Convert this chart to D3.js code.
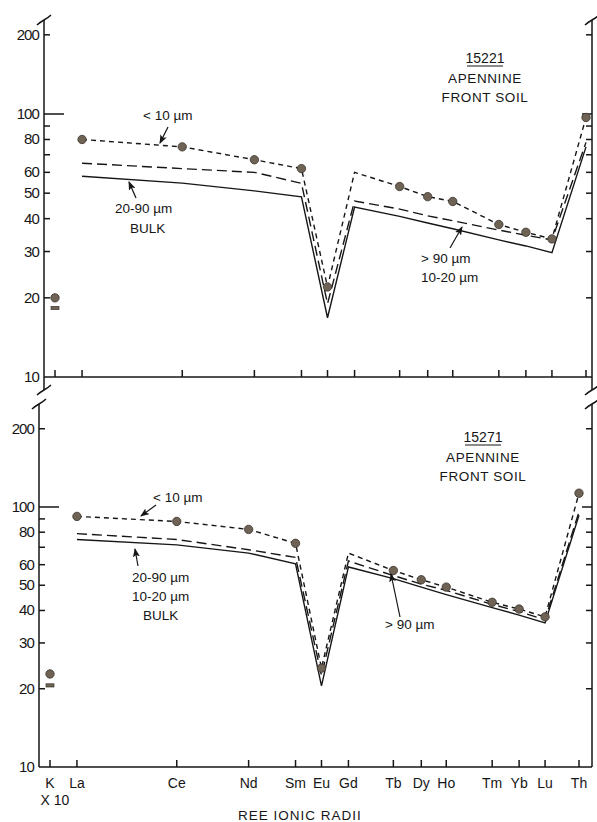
<!DOCTYPE html>
<html>
<head>
<meta charset="utf-8">
<script src="https://cdn.jsdelivr.net/npm/d3@7"></script>
<style>
body { margin: 0; background: #fff; }
svg text { font-family: "Liberation Sans", Arial, sans-serif; fill: #161616; font-size: 13.5px; }
.axis-line { stroke: #161616; stroke-width: 1.5; fill: none; }
.series { fill: none; stroke: #161616; stroke-width: 1.4; }
</style>
</head>
<body>
<svg width="597" height="822"></svg>
<script>
// element order along the REE ionic radii axis (K x10 at the far left)
const elements = ['K', 'La', 'Ce', 'Nd', 'Sm', 'Eu', 'Gd', 'Tb', 'Dy', 'Ho', 'Tm', 'Yb', 'Lu', 'Th'];
// relative abscissa (ionic radius units as spaced on the plot)
const abscissa = [0, 0.27, 1.27, 1.99, 2.46, 2.72, 2.99, 3.44, 3.72, 3.97, 4.43, 4.70, 4.96, 5.30];
const ree = elements.slice(1);

const yTicks = [20, 30, 40, 50, 60, 70, 80, 90, 100, 200];
const yTickLabels = [10, 20, 30, 40, 50, 60, 80, 100, 200];

// 15221 apennine front soil
const fine15221 = [80, 75, 67, 62, 22, 60, 53, 48.5, 46.5, 38, 35.5, 33.5, 97];
const coarse15221 = [65, 62, 60, 54.5, 19, 46.7, 43.5, 41, 39.3, 36.2, 34.6, 33.2, 78];
const bulk15221 = [58, 54.6, 51, 48.4, 16.8, 44.3, 40.8, 38.5, 36.6, 33.2, 31.5, 29.7, 75];
const kFine15221 = 20;
const kBulk15221 = 18.3;

// 15271 apennine front soil
const fine15271 = [92, 88, 82, 72.5, 24, 66.5, 57, 52.5, 49.2, 43, 40.5, 37.8, 113];
const coarse15271 = [79, 75, 68.5, 64, 22.5, 62, 54.5, 50.5, 47.8, 42.2, 39.6, 36.8, 96];
const bulk15271 = [75, 71.5, 66.5, 60.4, 20.5, 58.8, 53, 49.2, 46, 41, 38.4, 35.8, 93];
const kFine15271 = 22.8;
const kBulk15271 = 20.6;

// fine fraction has no plotted point at Gd
const noPoint = ['Gd'];

const svg = d3.select('svg');

const defs = svg.append('defs');
defs.append('marker')
    .attr('id', 'head')
    .attr('markerUnits', 'userSpaceOnUse')
    .attr('markerWidth', 9).attr('markerHeight', 7)
    .attr('refX', 8).attr('refY', 3.5)
    .attr('orient', 'auto')
    .append('path')
    .attr('d', 'M0,0 L9,3.5 L0,7 L2,3.5 Z')
    .attr('fill', '#161616');

function drawBreak(g, x, y) {
    g.append('path')
        .attr('class', 'axis-line')
        .attr('d', `M${x - 7},${y + 5} C${x - 3},${y + 1} ${x + 3},${y - 1} ${x + 7},${y - 5}`);
}

function drawPanel(p) {
    const g = svg.append('g');
    const x = d3.scaleLinear().domain([abscissa[0], abscissa[abscissa.length - 1]]).range([p.xK, p.xTh]);
    const y = d3.scaleLog().domain([10, 100]).range([p.y10, p.y100]);
    const pos = e => x(abscissa[elements.indexOf(e)]);

    // frame
    g.append('line').attr('class', 'axis-line')
        .attr('x1', p.left).attr('x2', p.left).attr('y1', p.top).attr('y2', p.bottom);
    g.append('line').attr('class', 'axis-line')
        .attr('x1', p.right).attr('x2', p.right).attr('y1', p.top).attr('y2', p.bottom);
    g.append('line').attr('class', 'axis-line')
        .attr('x1', p.left).attr('x2', p.right).attr('y1', p.y10).attr('y2', p.y10);
    drawBreak(g, p.left, p.top);
    drawBreak(g, p.right, p.top);
    if (p.bottom > p.y10) {
        drawBreak(g, p.left, p.bottom);
        drawBreak(g, p.right, p.bottom);
    }

    // y ticks, inside on both sides
    g.selectAll('.lt').data(yTicks).enter().append('line')
        .attr('class', 'axis-line')
        .attr('x1', p.left).attr('x2', d => p.left + (d === 100 ? 20 : 6))
        .attr('y1', d => y(d)).attr('y2', d => y(d));
    g.selectAll('.rt').data(yTicks).enter().append('line')
        .attr('class', 'axis-line')
        .attr('x1', p.right).attr('x2', d => p.right - (d === 100 ? 10 : 6))
        .attr('y1', d => y(d)).attr('y2', d => y(d));
    g.selectAll('.yl').data(yTickLabels).enter().append('text')
        .attr('x', p.left - 5).attr('y', d => y(d) + 5)
        .attr('text-anchor', 'end')
        .style('font-size', '15px')
        .style('letter-spacing', '-0.9px')
        .text(d => d);

    // x ticks
    g.selectAll('.xt').data(elements).enter().append('line')
        .attr('class', 'axis-line')
        .attr('x1', d => pos(d)).attr('x2', d => pos(d))
        .attr('y1', p.y10).attr('y2', p.y10 - 7);

    if (p.labels) {
        g.selectAll('.xl').data(elements).enter().append('text')
            .attr('x', d => pos(d)).attr('y', p.y10 + 21)
            .attr('text-anchor', 'middle')
            .style('font-size', '14px')
            .text(d => d);
        g.append('text').attr('x', pos('K') + 5).attr('y', p.y10 + 38)
            .attr('text-anchor', 'middle').style('font-size', '14px').text('X 10');
        g.append('text').attr('x', 300).attr('y', p.y10 + 53)
            .attr('text-anchor', 'middle')
            .style('letter-spacing', '1px')
            .text('REE IONIC RADII');
    }

    const line = d3.line().x(d => pos(d.e)).y(d => y(d.v));
    const pts = vals => ree.map((e, i) => ({ e: e, v: vals[i] }));

    g.append('path').datum(pts(p.bulk)).attr('class', 'series').attr('d', line);
    g.append('path').datum(pts(p.coarse)).attr('class', 'series')
        .attr('stroke-dasharray', '10,5').attr('d', line);
    g.append('path').datum(pts(p.fine)).attr('class', 'series')
        .attr('stroke-dasharray', '5,4').attr('d', line);

    g.selectAll('.pt').data(pts(p.fine).filter(d => noPoint.indexOf(d.e) < 0)).enter()
        .append('circle')
        .attr('cx', d => pos(d.e)).attr('cy', d => y(d.v)).attr('r', 4.2)
        .attr('fill', '#6f6355').attr('stroke', '#3b342c').attr('stroke-width', 0.8);

    // K x10
    g.append('circle').attr('cx', pos('K')).attr('cy', y(p.kFine)).attr('r', 4.2)
        .attr('fill', '#6f6355').attr('stroke', '#3b342c').attr('stroke-width', 0.8);
    g.append('rect').attr('x', pos('K') - 4).attr('y', y(p.kBulk) - 1.6)
        .attr('width', 8).attr('height', 3.2)
        .attr('fill', '#6f6355').attr('stroke', '#3b342c').attr('stroke-width', 0.7);

    // sample title
    g.append('text').attr('x', p.titleX).attr('y', p.titleY).attr('text-anchor', 'middle')
        .style('font-size', '14px').text(p.sample);
    g.append('line').attr('x1', p.titleX - 18).attr('x2', p.titleX + 18)
        .attr('y1', p.titleY + 3).attr('y2', p.titleY + 3)
        .attr('stroke', '#161616').attr('stroke-width', 1);
    g.append('text').attr('x', p.titleX).attr('y', p.titleY + 20).attr('text-anchor', 'middle')
        .style('letter-spacing', '0.6px').text('APENNINE');
    g.append('text').attr('x', p.titleX).attr('y', p.titleY + 39).attr('text-anchor', 'middle')
        .style('letter-spacing', '0.6px').text('FRONT SOIL');

    // annotations
    p.notes.forEach(n => {
        n.lines.forEach((s, i) => {
            g.append('text').attr('x', n.x).attr('y', n.y + i * 19).text(s);
        });
    });
    p.arrows.forEach(a => {
        g.append('line').attr('x1', a[0]).attr('y1', a[1]).attr('x2', a[2]).attr('y2', a[3])
            .attr('stroke', '#161616').attr('stroke-width', 1.2)
            .attr('marker-end', 'url(#head)');
    });
}

drawPanel({
    xK: 55, xTh: 586, y10: 377, y100: 114,
    left: 44, right: 592, top: 20, bottom: 390,
    labels: false,
    fine: fine15221, coarse: coarse15221, bulk: bulk15221,
    kFine: kFine15221, kBulk: kBulk15221,
    sample: '15221', titleX: 485, titleY: 63,
    notes: [
        { x: 143, y: 120, lines: ['< 10 \u00b5m'] },
        { x: 115, y: 213, lines: ['20-90 \u00b5m'] },
        { x: 130, y: 233, lines: ['BULK'] },
        { x: 421, y: 263, lines: ['> 90 \u00b5m', '10-20 \u00b5m'] }
    ],
    arrows: [[168, 127, 160, 143], [136, 198, 129, 182], [450, 248, 462, 227]]
});

drawPanel({
    xK: 50, xTh: 579, y10: 767, y100: 507,
    left: 39, right: 592, top: 404, bottom: 767,
    labels: true,
    fine: fine15271, coarse: coarse15271, bulk: bulk15271,
    kFine: kFine15271, kBulk: kBulk15271,
    sample: '15271', titleX: 483, titleY: 442,
    notes: [
        { x: 153, y: 502, lines: ['< 10 \u00b5m'] },
        { x: 132, y: 582, lines: ['20-90 \u00b5m', '10-20 \u00b5m'] },
        { x: 143, y: 620, lines: ['BULK'] },
        { x: 385, y: 629, lines: ['> 90 \u00b5m'] }
    ],
    arrows: [[156, 505, 141, 516], [138, 566, 135, 549], [400, 617, 391, 574]]
});
</script>
</body>
</html>
